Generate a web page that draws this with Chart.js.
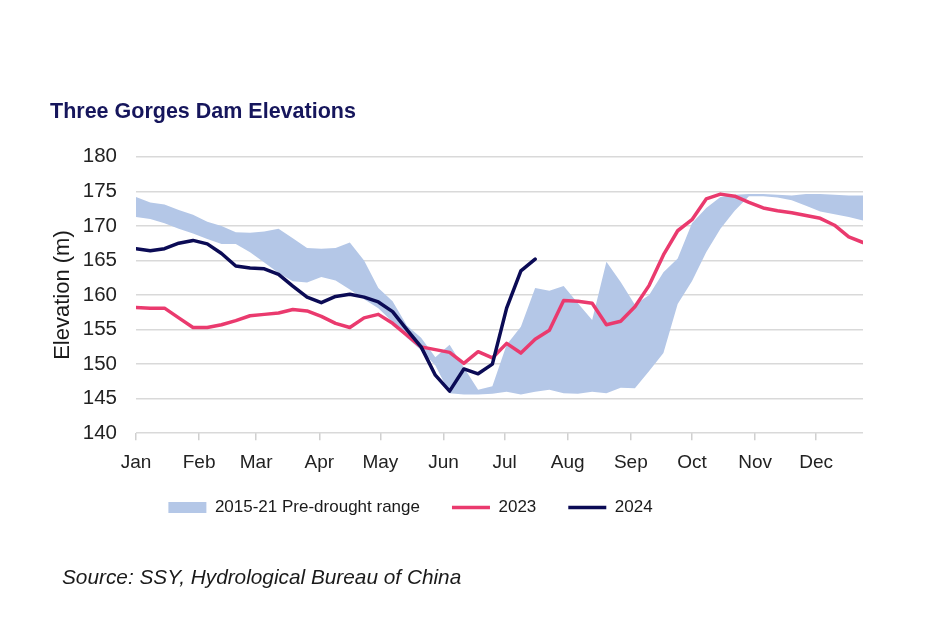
<!DOCTYPE html>
<html>
<head>
<meta charset="utf-8">
<script src="https://cdn.jsdelivr.net/npm/chart.js@4/dist/chart.umd.min.js"></script>
<style>
  html, body { margin: 0; padding: 0; background: #ffffff; }
  #wrap { position: relative; width: 940px; height: 627px; }
</style>
</head>
<body>
<div id="wrap"><canvas id="c"></canvas></div>
<script>
// ---- Data (weekly readings, week 0 = 1 Jan) ----
const monthLabels = ['Jan','Feb','Mar','Apr','May','Jun','Jul','Aug','Sep','Oct','Nov','Dec'];
const monthStartDays = [0,31,59,90,120,151,181,212,243,273,304,334];
const yTicks = [140,145,150,155,160,165,170,175,180];

const rangeUpper = [174.2,173.4,173.1,172.3,171.6,170.6,170.0,169.1,169.0,169.2,169.6,168.2,
  166.8,166.7,166.8,167.6,165.0,161.0,159.1,155.6,153.8,151.0,152.8,149.5,146.3,146.8,
  152.8,155.4,161.0,160.6,161.3,158.8,156.4,164.8,161.9,158.6,160.0,163.3,165.3,170.4,
  172.6,174.2,174.5,174.6,174.6,174.5,174.4,174.6,174.6,174.5,174.4,174.4];
const rangeLower = [171.3,171.0,170.4,169.6,168.9,168.1,167.4,167.4,166.2,164.7,163.2,162.0,
  161.8,162.6,162.1,160.8,159.4,158.1,156.1,153.8,152.0,149.8,145.8,145.6,145.6,145.7,
  146.0,145.6,146.0,146.3,145.8,145.7,146.0,145.8,146.6,146.5,149.0,151.6,158.7,162.0,
  166.2,169.6,172.2,174.3,174.3,174.1,173.7,172.9,172.1,171.7,171.3,170.8];
const elev2023 = [158.2,158.1,158.1,156.7,155.3,155.3,155.7,156.3,157.0,157.2,157.4,157.9,
  157.7,156.9,155.9,155.3,156.7,157.2,155.9,154.2,152.5,152.1,151.7,150.1,151.8,150.9,
  153.0,151.6,153.6,154.9,159.2,159.1,158.8,155.7,156.2,158.3,161.4,165.8,169.3,170.9,
  173.9,174.6,174.3,173.4,172.6,172.2,171.9,171.5,171.1,170.1,168.4,167.6];
const elev2024 = [166.7,166.4,166.7,167.5,167.9,167.4,166.0,164.2,163.9,163.8,163.0,161.3,
  159.7,158.9,159.8,160.1,159.7,159.0,157.6,155.0,152.5,148.4,146.1,149.3,148.6,150.0,
  158.1,163.5,165.2];

const TITLE = 'Three Gorges Dam Elevations';
const SOURCE = 'Source: SSY, Hydrological Bureau of China';
const RANGE_LABEL = '2015-21 Pre-drought range';

const toPts = arr => arr.map((v, i) => ({ x: i * 7, y: v }));

const BAND = '#b4c7e7';
const PINK = '#ea3a6e';
const NAVY = '#0b0b55';
const FONT = "'Liberation Sans', Arial, sans-serif";

const shiftPlugin = {
  id: 'shiftBoxes',
  afterLayout(chart) {
    if (chart.legend) {
      chart.legend.left += -46; chart.legend.right += -46;
      chart.legend.top += -18; chart.legend.bottom += -18;
    }
    chart.boxes.forEach(b => {
      if (b.options && b.options.text === SOURCE) { b.left += 12; b.right += 12; }
    });
  }
};

new Chart(document.getElementById('c'), {
  type: 'line',
  data: {
    datasets: [
      { label: '2024', data: toPts(elev2024), borderColor: NAVY, borderWidth: 3.5,
        pointRadius: 0, tension: 0, fill: false, borderJoinStyle: 'round', borderCapStyle: 'round' },
      { label: '2023', data: toPts(elev2023), borderColor: PINK, borderWidth: 3.5,
        pointRadius: 0, tension: 0, fill: false, borderJoinStyle: 'round', borderCapStyle: 'round' },
      { label: RANGE_LABEL, data: toPts(rangeUpper), borderColor: 'rgba(0,0,0,0)', borderWidth: 0,
        backgroundColor: BAND, pointRadius: 0, tension: 0, fill: '+1' },
      { label: 'lower', data: toPts(rangeLower), borderColor: 'rgba(0,0,0,0)', borderWidth: 0,
        pointRadius: 0, tension: 0, fill: false }
    ]
  },
  options: {
    responsive: true,
    maintainAspectRatio: false,
    animation: false,
    layout: { padding: { left: 50, right: 77, top: 0, bottom: 0 } },
    plugins: {
      tooltip: { enabled: false },
      title: {
        display: true, text: TITLE, align: 'start', color: '#16165c',
        font: { family: FONT, size: 21.5, weight: 'bold' },
        padding: { top: 99, bottom: 32 }
      },
      subtitle: {
        display: true, text: SOURCE, align: 'start', position: 'bottom', color: '#1a1a1a',
        font: { family: FONT, size: 20.8, style: 'italic' },
        padding: { top: 22, bottom: 36 }
      },
      legend: {
        position: 'bottom', align: 'center',
        labels: {
          usePointStyle: true, pointStyleWidth: 38, boxHeight: 11, padding: 32,
          color: '#1a1a1a', font: { family: FONT, size: 17 },
          generateLabels(chart) {
            const order = [2, 1, 0];
            return order.map(i => {
              const ds = chart.data.datasets[i];
              const isBand = i === 2;
              return {
                text: ds.label,
                fillStyle: isBand ? BAND : ds.borderColor,
                strokeStyle: isBand ? BAND : ds.borderColor,
                lineWidth: isBand ? 0 : 3.5,
                pointStyle: isBand ? 'rect' : 'line',
                hidden: false, datasetIndex: i, fontColor: '#1a1a1a'
              };
            });
          }
        }
      }
    },
    scales: {
      x: {
        type: 'linear', min: 0, max: 357,
        afterBuildTicks(scale) { scale.ticks = monthStartDays.map(v => ({ value: v })); },
        ticks: {
          autoSkip: false, maxRotation: 0, padding: 11, color: '#222222',
          font: { family: FONT, size: 19 },
          callback(value) { const k = monthStartDays.indexOf(value); return k >= 0 ? monthLabels[k] : ''; }
        },
        grid: { drawOnChartArea: false, drawTicks: true, tickLength: 7, color: '#d0d0d0', lineWidth: 1.5 },
        border: { display: false }
      },
      y: {
        min: 140, max: 180,
        afterBuildTicks(scale) { scale.ticks = yTicks.map(v => ({ value: v })); },
        afterFit(scale) { scale.width = 86; },
        title: { display: true, text: 'Elevation (m)', color: '#1a1a1a',
          font: { family: FONT, size: 22 }, padding: { top: 0, bottom: 0 } },
        ticks: { padding: 19, color: '#222222', font: { family: FONT, size: 20.5 } },
        grid: { drawTicks: false, color: '#d9d9d9', lineWidth: 1.5 },
        border: { display: false }
      }
    }
  },
  plugins: [shiftPlugin]
});
</script>
</body>
</html>
